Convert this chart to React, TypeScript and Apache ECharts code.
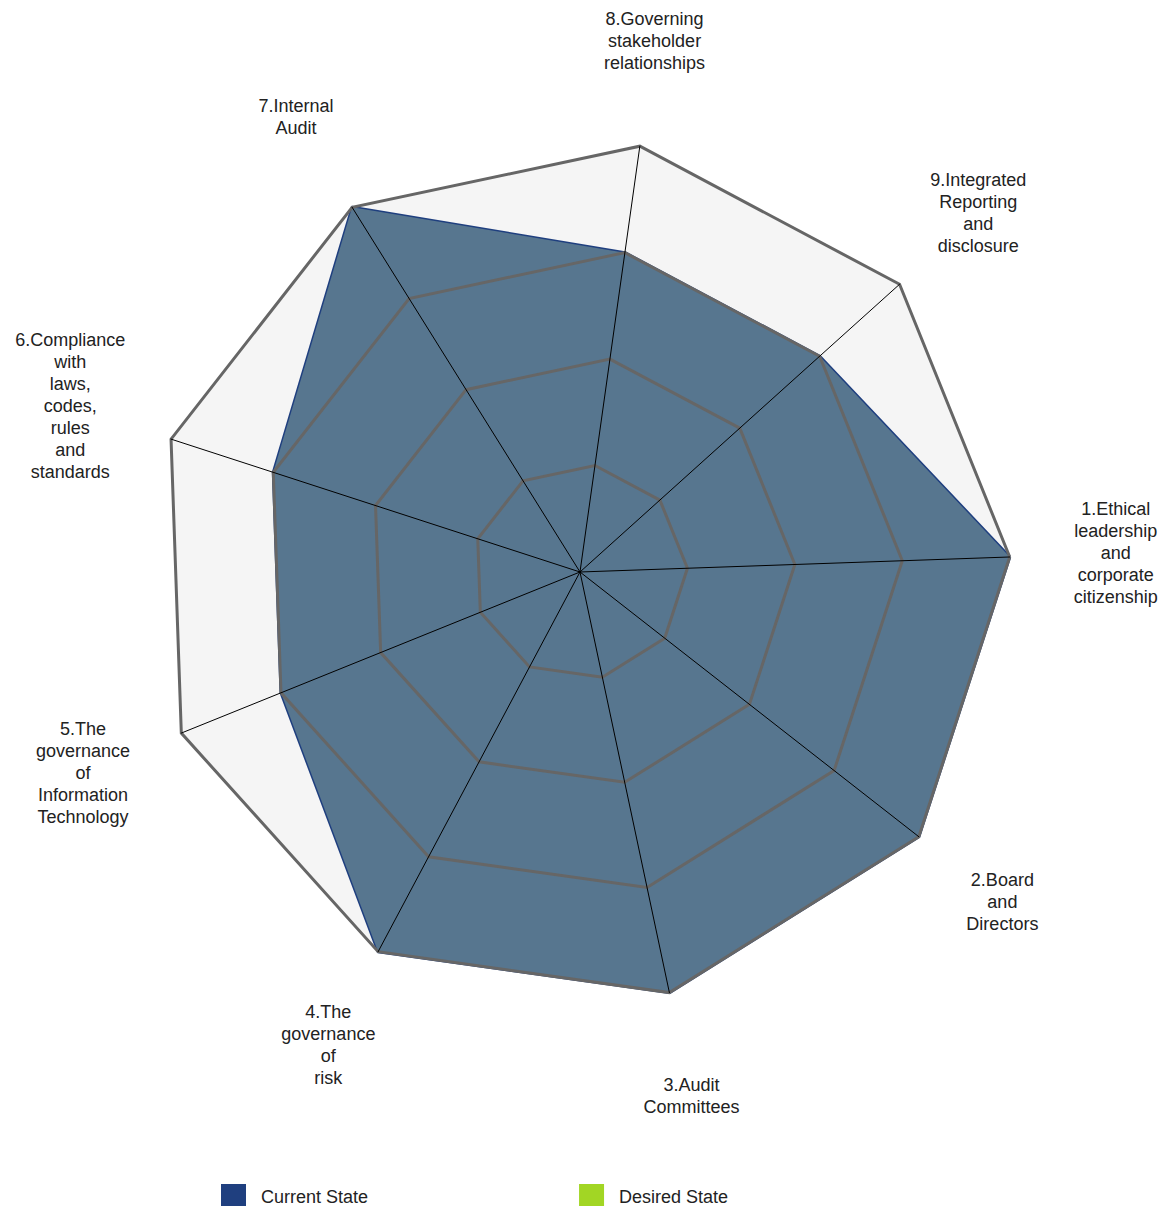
import React, { useEffect, useRef } from 'react';
import * as echarts from 'echarts';

// Categories in their natural order (1..9); drawn clockwise from the right.
const categories: string[] = [
  '1.Ethical leadership and corporate citizenship',
  '2.Board and Directors',
  '3.Audit Committees',
  '4.The governance of risk',
  '5.The governance of Information Technology',
  '6.Compliance with laws, codes, rules and standards',
  '7.Internal Audit',
  '8.Governing stakeholder relationships',
  '9.Integrated Reporting and disclosure',
];

const currentState: number[] = [4, 4, 4, 4, 3, 3, 4, 3, 3];
const desiredState: number[] = [];

const seriesNames: string[] = ['Current State', 'Desired State'];
const maxValue = 4;

// ECharts lays radar indicators counter-clockwise; reorder to get clockwise.
function toClockwise<T>(arr: T[]): T[] {
  if (arr.length === 0) return arr;
  return [arr[0], ...arr.slice(1).reverse()];
}

export default function App() {
  const ref = useRef<HTMLDivElement>(null);

  useEffect(() => {
    if (!ref.current) return;
    const chart = echarts.init(ref.current, undefined, { renderer: 'svg' });
    const indicator = toClockwise(categories).map((name) => ({ name, min: 0, max: maxValue }));
    const radarBase = {
      center: [572, 564],
      radius: 430,
      startAngle: 2,
      splitNumber: 4,
      shape: 'polygon',
      indicator,
      axisTick: { show: false },
      axisLabel: { show: false },
    };
    const font = "'Liberation Sans', Arial, sans-serif";
    chart.setOption({
      animation: false,
      backgroundColor: '#ffffff',
      radar: [
        {
          ...radarBase,
          z: 0,
          nameGap: 106,
          axisName: {
            show: true,
            formatter: (name: string) => name.split(' ').join('\n'),
            color: '#222222',
            fontSize: 18,
            lineHeight: 22,
            fontFamily: font,
            align: 'center',
            verticalAlign: 'middle',
          },
          splitLine: { show: false },
          axisLine: { show: false },
          splitArea: { show: true, areaStyle: { color: ['#f5f5f5'] } },
        },
        {
          ...radarBase,
          z: 5,
          axisName: { show: false },
          splitLine: { show: true, lineStyle: { color: '#666666', width: 3 } },
          axisLine: { show: true, lineStyle: { color: '#000000', width: 1 } },
          splitArea: { show: false },
        },
      ],
      legend: {
        left: 208,
        top: 1171,
        orient: 'horizontal',
        icon: 'rect',
        itemWidth: 25,
        itemHeight: 25,
        itemGap: 211,
        textStyle: {
          fontSize: 18,
          color: '#222222',
          fontFamily: font,
          padding: [0, 0, 0, 10],
        },
        data: [
          { name: seriesNames[0], itemStyle: { color: '#1f3f7f' } },
          { name: seriesNames[1], itemStyle: { color: '#a2d624' } },
        ],
      },
      series: [
        {
          type: 'radar',
          name: seriesNames[0],
          radarIndex: 0,
          symbol: 'none',
          itemStyle: { color: '#1f3f7f' },
          lineStyle: { color: '#1f3f7f', width: 3 },
          areaStyle: { color: '#57768f', opacity: 1 },
          data: [{ name: seriesNames[0], value: toClockwise(currentState) }],
        },
        {
          type: 'radar',
          name: seriesNames[1],
          radarIndex: 0,
          symbol: 'none',
          itemStyle: { color: '#a2d624' },
          lineStyle: { color: '#a2d624', width: 3 },
          data: desiredState.length ? [{ name: seriesNames[1], value: toClockwise(desiredState) }] : [],
        },
      ],
    });
    return () => chart.dispose();
  }, []);

  return <div ref={ref} style={{ width: 1157, height: 1198 }} />;
}
